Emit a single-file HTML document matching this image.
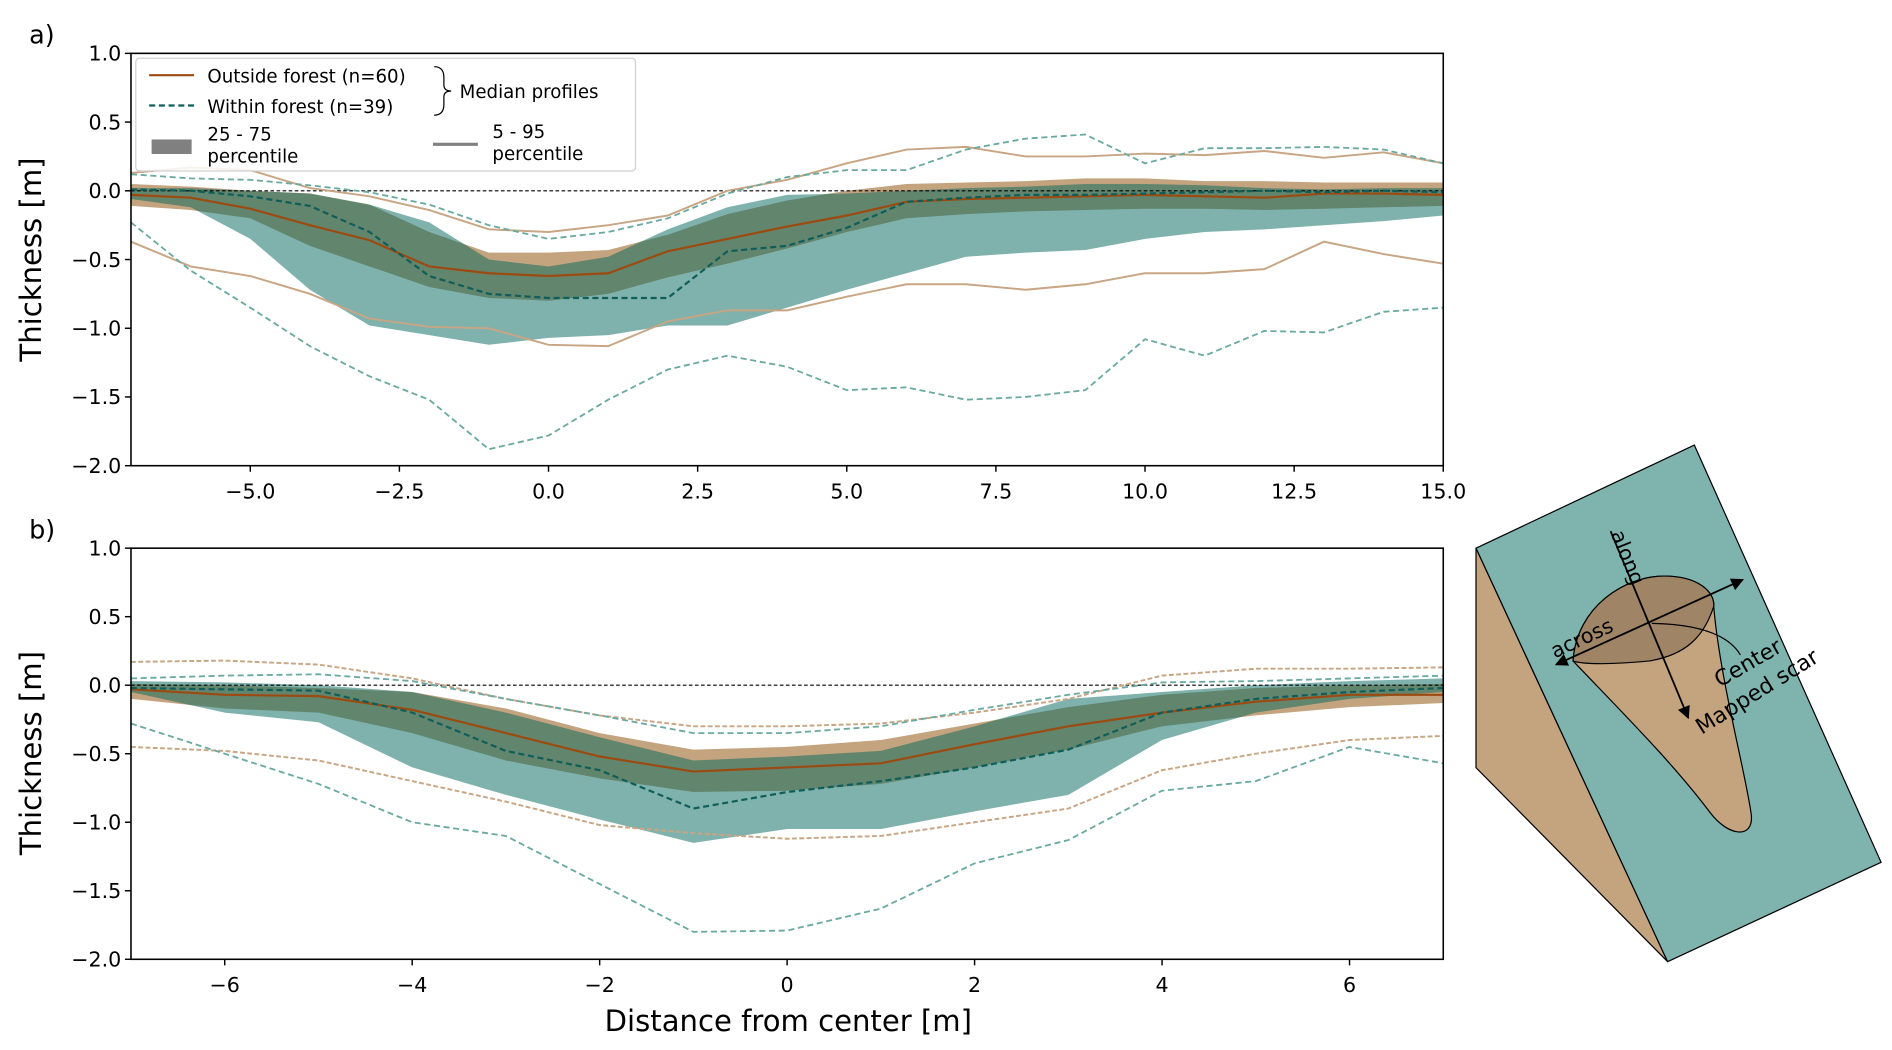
<!DOCTYPE html>
<html><head><meta charset="utf-8"><style>
html,body{margin:0;padding:0;background:#fff}
svg{display:block;font-family:"DejaVu Sans","Liberation Sans",sans-serif}
</style></head><body>
<svg id="fig" width="1892" height="1050" viewBox="0 0 1560 865.8" preserveAspectRatio="none" xmlns="http://www.w3.org/2000/svg">
<defs>
<clipPath id="clipA"><rect x="108" y="44" width="1082" height="340"/></clipPath>
<clipPath id="clipB"><rect x="108" y="452" width="1082" height="339"/></clipPath>
<marker id="arr" viewBox="0 0 10 10" refX="9" refY="5" markerWidth="7" markerHeight="7" orient="auto-start-reverse"><path d="M0,0L10,5L0,10z" fill="#000"/></marker>
</defs>
<g id="panelA"></g>
<g id="panelB"></g>
<text x="24" y="36" font-size="21">a)</text>
<text x="24" y="444" font-size="21">b)</text>
<text transform="translate(34,214) rotate(-90)" text-anchor="middle" font-size="24">Thickness [m]</text>
<text transform="translate(34,621) rotate(-90)" text-anchor="middle" font-size="24">Thickness [m]</text>
<text x="650" y="850" text-anchor="middle" font-size="24">Distance from center [m]</text>
<g>
<rect x="112" y="48" width="412" height="93" rx="3" fill="#fff" fill-opacity="0.85" stroke="#d0d0d0"/>
<line x1="123" y1="62" x2="160" y2="62" stroke="#9c4a10" stroke-width="1.8"/>
<text x="171" y="68" font-size="15">Outside forest (n=60)</text>
<line x1="123" y1="87" x2="160" y2="87" stroke="#0f5e5a" stroke-width="1.8" stroke-dasharray="5,3"/>
<text x="171" y="93" font-size="15">Within forest (n=39)</text>
<path d="M358,55 Q366,55 366,64 L366,70 Q366,75 372,75 Q366,75 366,80 L366,86 Q366,95 358,95" fill="none" stroke="#000" stroke-width="1"/>
<text x="379" y="81" font-size="15">Median profiles</text>
<rect x="125" y="115" width="33" height="12" fill="#808080"/>
<text x="171" y="116" font-size="15">25 - 75</text>
<text x="171" y="134" font-size="15">percentile</text>
<line x1="357" y1="119" x2="394" y2="119" stroke="#808080" stroke-width="2.5"/>
<text x="406" y="114" font-size="15">5 - 95</text>
<text x="406" y="132" font-size="15">percentile</text>
</g>
<g>
<polygon points="1217,452 1375,793 1217,633" fill="#c4a47f" stroke="#000" stroke-width="1"/>
<polygon points="1217,452 1397,367 1551,711 1375,793" fill="#7fb4ae" stroke="#000" stroke-width="1"/>
<path d="M1297,545 C1300,500 1340,475 1372,475 C1400,475 1414,488 1413,500 C1418,560 1440,640 1444,672 C1446,692 1425,690 1410,670 C1380,630 1340,590 1297,545 Z" fill="#c4a47f" stroke="#000" stroke-width="1"/>
<path d="M1297,545 C1300,500 1340,475 1372,475 C1400,475 1414,488 1413,500 C1405,525 1390,540 1360,545 C1330,548 1305,548 1297,545 Z" fill="#9f8466" stroke="#000" stroke-width="1"/>
<line x1="1283" y1="548" x2="1437" y2="478" stroke="#000" stroke-width="1.5" marker-start="url(#arr)" marker-end="url(#arr)"/>
<line x1="1328" y1="438" x2="1392" y2="592" stroke="#000" stroke-width="1.5" marker-end="url(#arr)"/>
<path d="M1362,514 Q1420,515 1435,540" fill="none" stroke="#000" stroke-width="1"/>
<text transform="translate(1328,440) rotate(68)" font-size="17">along</text>
<text transform="translate(1282,543) rotate(-25)" font-size="17">across</text>
<text transform="translate(1418,567) rotate(-30)" font-size="18">Center</text>
<text transform="translate(1403,606) rotate(-32)" font-size="18">Mapped scar</text>
</g>
</svg>
<script>
// Panel a data (x from -7 to 15 step 1)
const xA = [-7,-6,-5,-4,-3,-2,-1,0,1,2,3,4,5,6,7,8,9,10,11,12,13,14,15];
const outMedA = [-0.03,-0.05,-0.13,-0.25,-0.36,-0.55,-0.6,-0.62,-0.6,-0.44,-0.35,-0.26,-0.18,-0.08,-0.06,-0.05,-0.04,-0.03,-0.04,-0.05,-0.02,-0.02,-0.03];
const inMedA = [0.01,0.0,-0.04,-0.11,-0.3,-0.62,-0.75,-0.78,-0.78,-0.78,-0.44,-0.4,-0.27,-0.08,-0.05,-0.03,-0.03,-0.02,-0.01,0,-0.01,0,-0.01];
const out25A = [0.05,0.03,0.0,-0.02,-0.1,-0.3,-0.45,-0.45,-0.43,-0.32,-0.17,-0.07,0.0,0.05,0.06,0.07,0.09,0.09,0.07,0.07,0.06,0.06,0.06];
const out75A = [-0.11,-0.14,-0.2,-0.4,-0.55,-0.7,-0.78,-0.8,-0.75,-0.63,-0.53,-0.42,-0.3,-0.2,-0.17,-0.15,-0.14,-0.13,-0.13,-0.14,-0.13,-0.12,-0.11];
const in25A = [0.02,0.02,0.0,-0.02,-0.1,-0.23,-0.5,-0.55,-0.48,-0.28,-0.12,-0.03,-0.02,0.0,0.02,0.03,0.05,0.05,0.04,0.02,0.01,0.02,0.02];
const in75A = [-0.06,-0.12,-0.35,-0.72,-0.98,-1.05,-1.12,-1.07,-1.05,-0.98,-0.98,-0.85,-0.72,-0.6,-0.48,-0.45,-0.43,-0.35,-0.3,-0.28,-0.25,-0.22,-0.18];
const out5A = [0.13,0.17,0.15,0.02,-0.04,-0.14,-0.28,-0.3,-0.25,-0.18,0.0,0.08,0.2,0.3,0.32,0.25,0.25,0.27,0.26,0.29,0.24,0.28,0.2];
const out95A = [-0.37,-0.55,-0.62,-0.75,-0.93,-0.99,-1.0,-1.12,-1.13,-0.95,-0.87,-0.87,-0.77,-0.68,-0.68,-0.72,-0.68,-0.6,-0.6,-0.57,-0.37,-0.46,-0.53];
const in5A = [0.12,0.09,0.08,0.04,-0.01,-0.1,-0.25,-0.35,-0.3,-0.2,-0.02,0.1,0.15,0.15,0.3,0.38,0.41,0.2,0.31,0.31,0.32,0.3,0.2];
const in95A = [-0.23,-0.58,-0.85,-1.13,-1.35,-1.52,-1.88,-1.78,-1.52,-1.3,-1.2,-1.28,-1.45,-1.43,-1.52,-1.5,-1.45,-1.08,-1.2,-1.02,-1.03,-0.88,-0.85];
const xTicksA = [-5,-2.5,0,2.5,5,7.5,10,12.5,15];
const xTickLabelsA = ["−5.0","−2.5","0.0","2.5","5.0","7.5","10.0","12.5","15.0"];
// Panel b data (x from -7 to 7 step 1)
const xB = [-7,-6,-5,-4,-3,-2,-1,0,1,2,3,4,5,6,7];
const outMedB = [-0.03,-0.07,-0.08,-0.18,-0.35,-0.52,-0.63,-0.6,-0.57,-0.43,-0.3,-0.2,-0.12,-0.07,-0.07];
const inMedB = [-0.02,-0.03,-0.04,-0.2,-0.48,-0.62,-0.9,-0.78,-0.7,-0.6,-0.47,-0.2,-0.1,-0.05,-0.02];
const out25B = [0.01,0.0,-0.02,-0.05,-0.17,-0.35,-0.47,-0.45,-0.4,-0.28,-0.16,-0.07,-0.02,0.0,0.01];
const out75B = [-0.1,-0.17,-0.2,-0.35,-0.55,-0.68,-0.78,-0.77,-0.72,-0.6,-0.47,-0.3,-0.22,-0.16,-0.13];
const in25B = [0.03,0.02,0.0,-0.05,-0.2,-0.38,-0.55,-0.52,-0.48,-0.3,-0.1,-0.05,0.0,0.03,0.05];
const in75B = [-0.05,-0.2,-0.27,-0.6,-0.8,-0.98,-1.15,-1.05,-1.05,-0.92,-0.8,-0.4,-0.2,-0.1,-0.05];
const out5B = [0.17,0.18,0.15,0.05,-0.1,-0.22,-0.3,-0.3,-0.28,-0.2,-0.1,0.07,0.12,0.12,0.13];
const out95B = [-0.45,-0.48,-0.55,-0.7,-0.85,-1.02,-1.08,-1.12,-1.1,-1.0,-0.9,-0.62,-0.5,-0.4,-0.37];
const in5B = [0.05,0.07,0.08,0.03,-0.1,-0.22,-0.35,-0.35,-0.3,-0.18,-0.07,0.02,0.03,0.05,0.07];
const in95B = [-0.28,-0.5,-0.72,-1.0,-1.1,-1.45,-1.8,-1.79,-1.63,-1.3,-1.13,-0.77,-0.7,-0.45,-0.57];
const xTicksB = [-6,-4,-2,0,2,4,6];
const xTickLabelsB = ["−6","−4","−2","0","2","4","6"];
const yTicks = [1.0,0.5,0.0,-0.5,-1.0,-1.5,-2.0];
const yTickLabels = ["1.0","0.5","0.0","−0.5","−1.0","−1.5","−2.0"];

const NS = "http://www.w3.org/2000/svg";
function mk(tag, attrs, parent){const e=document.createElementNS(NS,tag);for(const k in attrs)e.setAttribute(k,attrs[k]);parent.appendChild(e);return e;}

function drawPanel(g, clip, L, R, T, B, xmin, xmax, xs, s, xt, xtl, dashed5){
  const X = v => L + (v - xmin) / (xmax - xmin) * (R - L);
  const Y = v => T + (1 - v) / 3 * (B - T);
  const cg = mk('g', {'clip-path':'url(#'+clip+')'}, g);
  const lineD = arr => arr.map((v,i)=>(i?'L':'M')+X(xs[i]).toFixed(1)+','+Y(v).toFixed(1)).join('');
  const bandD = (a,b) => lineD(a) + b.slice().reverse().map((v,j)=>{const i=b.length-1-j;return 'L'+X(xs[i]).toFixed(1)+','+Y(v).toFixed(1);}).join('') + 'Z';
  let e;
  e = mk('path', {d:bandD(s.o25,s.o75), fill:'#c4a47f'}, cg);
  
  
  e = mk('path', {d:bandD(s.i25,s.i75), fill:'rgb(0,102,92)', 'fill-opacity':0.5}, cg);
  
  
  e = mk('line', {x1:L, x2:R, y1:Y(0), y2:Y(0), stroke:'#000', 'stroke-width':1, 'stroke-dasharray':'3,2'}, cg);
  
  
  const od = dashed5 ? '4,2' : null;
  e = mk('path', {d:lineD(s.o5), fill:'none', stroke:'#c8a583', 'stroke-width':1.6}, cg);
  if(od) e.setAttribute('stroke-dasharray', od);
  
  
  e = mk('path', {d:lineD(s.o95), fill:'none', stroke:'#c8a583', 'stroke-width':1.6}, cg);
  if(od) e.setAttribute('stroke-dasharray', od);
  
  
  e = mk('path', {d:lineD(s.i5), fill:'none', stroke:'#6aa9a0', 'stroke-width':1.5, 'stroke-dasharray':'5,3'}, cg);
  
  
  e = mk('path', {d:lineD(s.i95), fill:'none', stroke:'#6aa9a0', 'stroke-width':1.5, 'stroke-dasharray':'5,3'}, cg);
  
  
  e = mk('path', {d:lineD(s.om), fill:'none', stroke:'#9c4a10', 'stroke-width':1.8}, cg);
  
  
  e = mk('path', {d:lineD(s.im), fill:'none', stroke:'#0f5e5a', 'stroke-width':1.8, 'stroke-dasharray':'5,3'}, cg);
  
  
  e = mk('rect', {x:L, y:T, width:R-L, height:B-T, fill:'none', stroke:'#000', 'stroke-width':1.3}, g);
  
  
  yTicks.forEach((v,i)=>{
    mk('line',{x1:L-5,x2:L,y1:Y(v),y2:Y(v),stroke:'#000','stroke-width':1.2},g);
    const t = mk('text',{x:L-8,y:Y(v)+6,'text-anchor':'end','font-size':17},g);
    t.textContent = yTickLabels[i];
    
    
  });
  xt.forEach((v,i)=>{
    mk('line',{x1:X(v),x2:X(v),y1:B,y2:B+5,stroke:'#000','stroke-width':1.2},g);
    const t = mk('text',{x:X(v),y:B+27,'text-anchor':'middle','font-size':17},g);
    t.textContent = xtl[i];
    
    
  });
}
drawPanel(document.getElementById('panelA'),'clipA',108,1190,44,384,-7,15,xA,
  {om:outMedA,im:inMedA,o25:out25A,o75:out75A,i25:in25A,i75:in75A,o5:out5A,o95:out95A,i5:in5A,i95:in95A},xTicksA,xTickLabelsA,false);
drawPanel(document.getElementById('panelB'),'clipB',108,1190,452,791,-7,7,xB,
  {om:outMedB,im:inMedB,o25:out25B,o75:out75B,i25:in25B,i75:in75B,o5:out5B,o95:out95B,i5:in5B,i95:in95B},xTicksB,xTickLabelsB,true);
</script>
</body></html>
